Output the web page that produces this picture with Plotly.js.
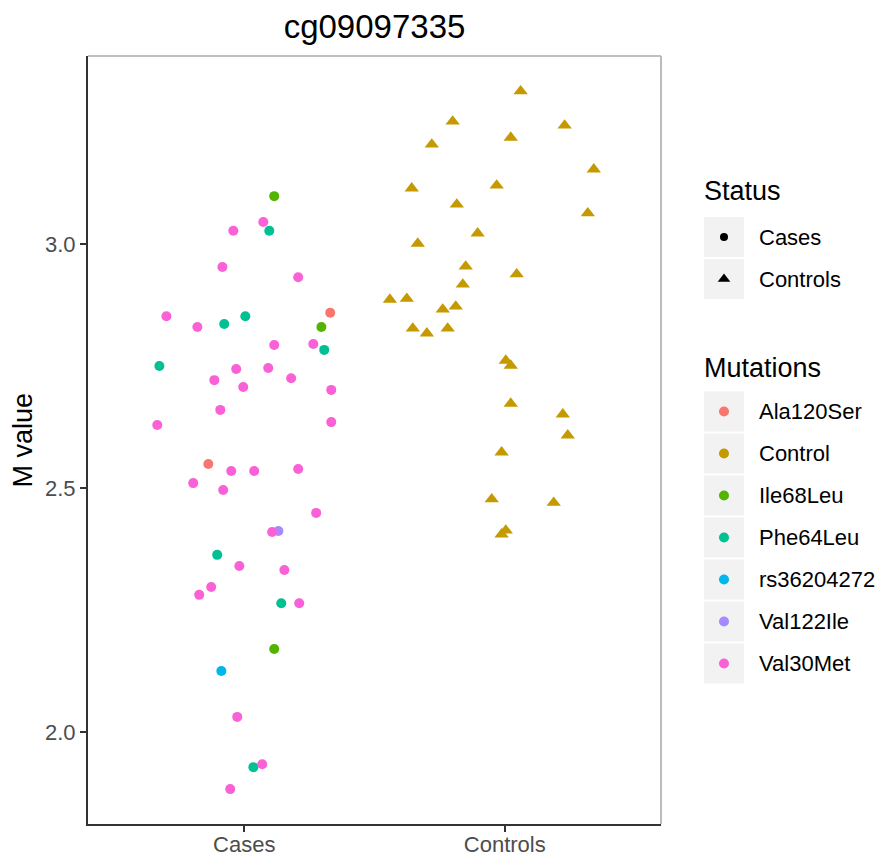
<!DOCTYPE html>
<html><head><meta charset="utf-8">
<script src="https://cdn.plot.ly/plotly-3.0.1.min.js"></script>
<style>html,body{margin:0;padding:0;background:#fff;overflow:hidden}#chart{width:881px;height:856px}</style>
</head><body><div id="chart"></div>
<script>
// ---- data ----
const statusLevels = ['Cases', 'Controls'];
const statusSymbols = ['circle', 'triangle-up'];
const mutationLevels = ['Ala120Ser', 'Control', 'Ile68Leu', 'Phe64Leu', 'rs36204272', 'Val122Ile', 'Val30Met'];
const mutationColors = ['#F8766D', '#C49A00', '#53B400', '#00C094', '#00B6EB', '#A58AFF', '#FB61D7'];
const yTickVals = [2.0, 2.5, 3.0];
const yTickText = ['2.0', '2.5', '3.0'];

// Cases (jittered position around 1)
const caseX = [1.115,1.073,0.958,1.096,0.916,1.207,0.701,0.820,0.923,1.004,1.330,1.296,1.115,1.265,1.307,0.674,0.969,1.092,0.885,1.180,0.996,1.334,0.908,0.666,1.334,0.862,0.950,1.038,1.207,0.804,0.919,1.276,1.107,1.131,0.896,0.981,1.154,0.873,0.827,1.142,1.211,1.115,0.912,0.973,1.069,1.035,0.946];
const caseY = [3.098,3.045,3.027,3.027,2.953,2.932,2.852,2.830,2.836,2.852,2.859,2.830,2.793,2.795,2.783,2.750,2.744,2.746,2.721,2.725,2.707,2.701,2.660,2.629,2.635,2.549,2.535,2.535,2.539,2.510,2.496,2.449,2.410,2.412,2.363,2.340,2.332,2.297,2.281,2.264,2.264,2.170,2.125,2.031,1.934,1.928,1.883];
const caseMut = ['Ile68Leu','Val30Met','Val30Met','Phe64Leu','Val30Met','Val30Met','Val30Met','Val30Met','Phe64Leu','Phe64Leu','Ala120Ser','Ile68Leu','Val30Met','Val30Met','Phe64Leu','Phe64Leu','Val30Met','Val30Met','Val30Met','Val30Met','Val30Met','Val30Met','Val30Met','Val30Met','Val30Met','Ala120Ser','Val30Met','Val30Met','Val30Met','Val30Met','Val30Met','Val30Met','Val30Met','Val122Ile','Phe64Leu','Val30Met','Val30Met','Val30Met','Val30Met','Phe64Leu','Val30Met','Ile68Leu','rs36204272','Val30Met','Val30Met','Phe64Leu','Val30Met'];

// Controls (jittered position around 2)
const controlX = [2.061,1.800,2.230,1.720,2.023,2.342,1.643,1.969,1.816,2.319,1.666,1.896,1.850,2.046,1.839,1.559,1.624,1.762,1.812,1.647,1.701,1.781,2.004,2.023,2.023,2.223,2.242,1.988,1.950,2.188,2.004,1.988];
const controlY = [3.313,3.251,3.243,3.204,3.218,3.153,3.114,3.120,3.081,3.063,3.001,3.022,2.954,2.938,2.917,2.886,2.888,2.866,2.872,2.827,2.817,2.827,2.761,2.751,2.673,2.651,2.608,2.573,2.477,2.470,2.413,2.405];

// ---- layout geometry ----
const W = 881, H = 856;
const PL = 88, PR = 661, PT = 56, PB = 824;
const px2x = p => (p - PL) / (PR - PL);
const py2y = p => (PB - p) / (PB - PT);
const FONT = 'Liberation Sans, Arial, Helvetica, sans-serif';
const PITCH = 42;
const statusTop = 211, mutTop = 385.5;
const keyX0 = 704, keyX1 = 744;

// ---- traces ----
const traces = [];
mutationLevels.forEach((m, i) => {
  let xs, ys, sym, sz;
  if (m === 'Control') {
    xs = controlX; ys = controlY; sym = 'triangle-up'; sz = 12.5;
  } else {
    xs = []; ys = [];
    caseMut.forEach((c, k) => { if (c === m) { xs.push(caseX[k]); ys.push(caseY[k]); } });
    sym = 'circle'; sz = 10;
  }
  traces.push({type: 'scatter', mode: 'markers', x: xs, y: ys, name: m, showlegend: false,
    marker: {color: mutationColors[i], symbol: sym, size: sz, line: {width: 0}}, hoverinfo: 'x+y+name'});
});
statusLevels.forEach((s, i) => {
  traces.push({type: 'scatter', mode: 'markers', x: [null], y: [null], legend: 'legend',
    name: '<span style="font-size:22px;baseline-shift:4px">' + s + '</span>',
    marker: {color: '#000', symbol: statusSymbols[i], size: i === 0 ? 8 : 11}});
});
mutationLevels.forEach((m, i) => {
  traces.push({type: 'scatter', mode: 'markers', x: [null], y: [null], legend: 'legend2',
    name: '<span style="font-size:22px;baseline-shift:4px">' + m + '</span>',
    marker: {color: mutationColors[i], symbol: 'circle', size: 10}});
});

// ---- shapes ----
const shapes = [
  {type: 'line', xref: 'paper', yref: 'paper', x0: 0, x1: 1, y0: 1, y1: 1, line: {color: '#ABABAB', width: 1.6}},
  {type: 'line', xref: 'paper', yref: 'paper', x0: 1, x1: 1, y0: 0, y1: 1, line: {color: '#ABABAB', width: 1.6}}
];
function keyBox(cy) {
  return {type: 'rect', xref: 'paper', yref: 'paper', layer: 'below',
    x0: px2x(keyX0), x1: px2x(keyX1), y0: py2y(cy + 20), y1: py2y(cy - 20),
    fillcolor: '#F2F2F2', line: {width: 0}};
}
statusLevels.forEach((s, i) => shapes.push(keyBox(statusTop + 26 + i * PITCH)));
mutationLevels.forEach((m, i) => shapes.push(keyBox(mutTop + 26 + i * PITCH)));

const axisCommon = {
  showgrid: false, zeroline: false, showline: true, linecolor: '#333333', linewidth: 2,
  ticks: 'outside', ticklen: 6, tickwidth: 1.6, tickcolor: '#333333',
  tickfont: {family: FONT, size: 22, color: '#4D4D4D'}, automargin: false, fixedrange: true
};

const legendCommon = {
  xanchor: 'left', yanchor: 'top', bgcolor: 'rgba(0,0,0,0)', borderwidth: 0,
  itemwidth: 60, traceorder: 'normal', font: {family: FONT, size: 30, color: '#000'},
  itemclick: false, itemdoubleclick: false
};

const layout = {
  width: W, height: H, autosize: false,
  margin: {l: PL, r: W - PR, t: PT, b: H - PB, pad: 0, autoexpand: false},
  paper_bgcolor: '#fff', plot_bgcolor: '#fff',
  font: {family: FONT, color: '#000'},
  title: {text: 'cg09097335', font: {family: FONT, size: 33, color: '#000'},
    x: 0.5, xref: 'paper', xanchor: 'center', y: 1 - 26 / H, yref: 'container', yanchor: 'middle'},
  xaxis: Object.assign({}, axisCommon, {range: [0.4, 2.6], tickvals: [1, 2], ticktext: statusLevels, ticklabelstandoff: -6}),
  yaxis: Object.assign({}, axisCommon, {range: [1.8115, 3.3852], tickvals: yTickVals, ticktext: yTickText}),
  showlegend: true,
  legend: Object.assign({}, legendCommon, {x: px2x(689), y: py2y(statusTop)}),
  legend2: Object.assign({}, legendCommon, {x: px2x(689), y: py2y(mutTop)}),
  shapes: shapes,
  annotations: [
    {text: 'M value', textangle: -90, xref: 'paper', yref: 'paper', x: px2x(22.5), y: 0.5,
      xanchor: 'center', yanchor: 'middle', showarrow: false, font: {family: FONT, size: 27, color: '#000'}},
    {text: 'Status', xref: 'paper', yref: 'paper', x: px2x(702), y: py2y(191),
      xanchor: 'left', yanchor: 'middle', showarrow: false, font: {family: FONT, size: 27, color: '#000'}},
    {text: 'Mutations', xref: 'paper', yref: 'paper', x: px2x(702), y: py2y(368),
      xanchor: 'left', yanchor: 'middle', showarrow: false, font: {family: FONT, size: 27, color: '#000'}}
  ]
};

Plotly.newPlot('chart', traces, layout, {displayModeBar: false, responsive: false});
</script>
</body></html>
